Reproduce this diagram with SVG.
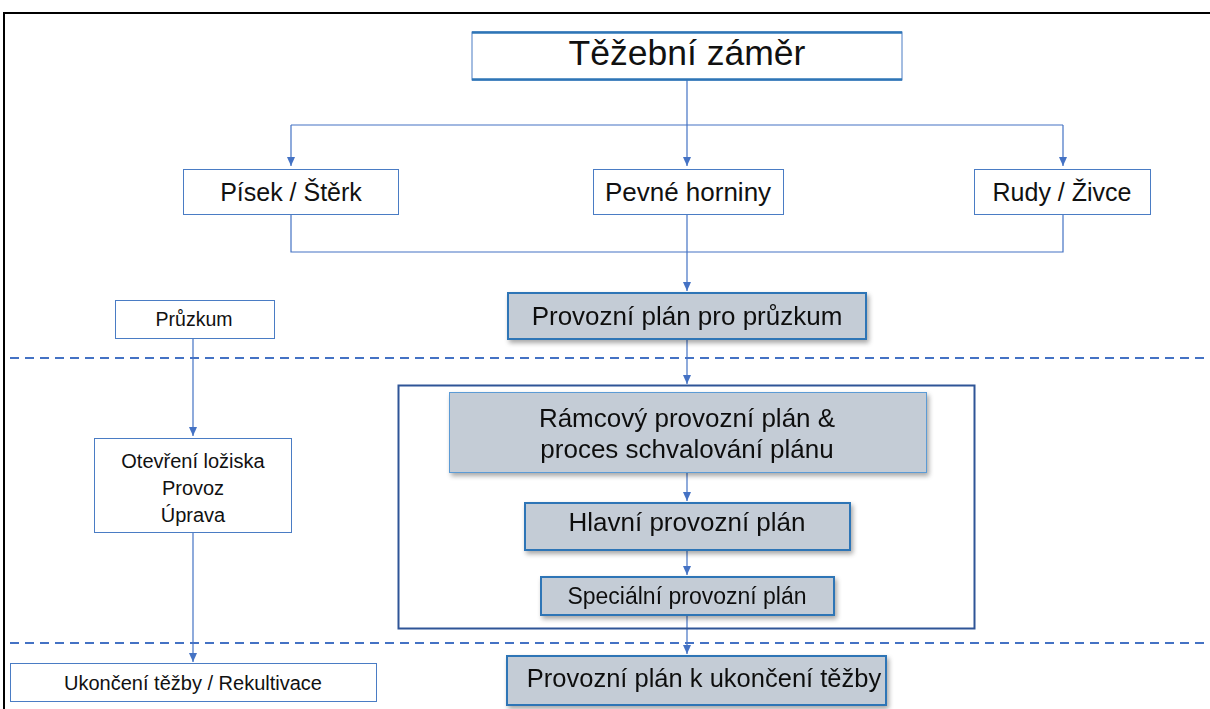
<svg xmlns="http://www.w3.org/2000/svg" width="1210" height="709" viewBox="0 0 1210 709">
<defs>
<marker id="arw" markerWidth="10" markerHeight="10" refX="9" refY="5" orient="auto" markerUnits="userSpaceOnUse">
<path d="M0,1 L9,5 L0,9 Z" fill="#4472c4"/>
</marker>
<filter id="sh" x="-10%" y="-20%" width="120%" height="150%">
<feGaussianBlur in="SourceAlpha" stdDeviation="2.5"/>
<feOffset dx="2" dy="3" result="b"/>
<feComponentTransfer><feFuncA type="linear" slope="0.35"/></feComponentTransfer>
<feMerge><feMergeNode/><feMergeNode in="SourceGraphic"/></feMerge>
</filter>
</defs>
<style>
text{font-family:"Liberation Sans",Arial,sans-serif;fill:#111;text-anchor:middle}
.wb{fill:#fff;stroke:#4a7cc4;stroke-width:1}
.gb{fill:#c4ccd6;stroke:#2e75b6;stroke-width:2}
.gl{fill:#c4ccd6;stroke:#5b9bd5;stroke-width:1}
.ln{fill:none;stroke:#4472c4;stroke-width:1.2}
.da{fill:none;stroke:#4472c4;stroke-width:2;stroke-dasharray:9 6}
</style>
<rect x="0" y="0" width="1210" height="709" fill="#fff"/>
<path d="M4,709 L4,13 L1210,13" fill="none" stroke="#000" stroke-width="2"/>

<g id="connectors">
<path class="ln" d="M687,80 L687,166" marker-end="url(#arw)"/>
<path class="ln" d="M291,125 L1063,125"/>
<path class="ln" d="M291,125 L291,166" marker-end="url(#arw)"/>
<path class="ln" d="M1063,125 L1063,166" marker-end="url(#arw)"/>
<path class="ln" d="M291,214 L291,252 L1063,252 L1063,214"/>
<path class="ln" d="M687,214 L687,291" marker-end="url(#arw)"/>
<path class="ln" d="M687,339 L687,384" marker-end="url(#arw)"/>
<path class="ln" d="M687,472 L687,501" marker-end="url(#arw)"/>
<path class="ln" d="M687,550 L687,575" marker-end="url(#arw)"/>
<path class="ln" d="M687,615 L687,654" marker-end="url(#arw)"/>
<path class="ln" d="M193,338 L193,436" marker-end="url(#arw)"/>
<path class="ln" d="M193,532 L193,662" marker-end="url(#arw)"/>
<path class="da" d="M10,358 L1210,358"/>
<path class="da" d="M10,643 L1210,643"/>
</g>

<g id="title">
<rect x="472" y="32" width="430" height="48" fill="#fff" stroke="#4a7cc4" stroke-width="1"/>
<path d="M472,32.5 L902,32.5 M472,79.5 L902,79.5" stroke="#2e75b6" stroke-width="2.5"/>
<text x="687" y="65" font-size="35.5">Těžební záměr</text>
</g>
<g id="pisek"><rect class="wb" x="183.5" y="169.5" width="215" height="45"/><text x="291" y="201" font-size="25">Písek / Štěrk</text></g>
<g id="pevne"><rect class="wb" x="593.5" y="169.5" width="190" height="45"/><text x="688" y="201" font-size="26">Pevné horniny</text></g>
<g id="rudy"><rect class="wb" x="974.5" y="169.5" width="176" height="45"/><text x="1062" y="201" font-size="25">Rudy / Živce</text></g>

<g id="pp-pruzkum" filter="url(#sh)"><rect class="gb" x="508" y="293" width="358" height="46"/><text x="687" y="325" font-size="26">Provozní plán pro průzkum</text></g>

<g id="pruzkum"><rect class="wb" x="115.5" y="300.5" width="159" height="38"/><text x="194" y="326" font-size="19.5">Průzkum</text></g>
<g id="otevreni"><rect class="wb" x="94.5" y="438.5" width="197" height="94"/>
<text x="193" y="468" font-size="20">Otevření ložiska</text>
<text x="193" y="495" font-size="20">Provoz</text>
<text x="193" y="522" font-size="20">Úprava</text></g>
<g id="ukonceni"><rect class="wb" x="10.5" y="663.5" width="366" height="38"/><text x="193" y="690" font-size="20">Ukončení těžby / Rekultivace</text></g>

<g id="frame"><rect x="398.5" y="385.5" width="576" height="243" fill="none" stroke="#2f5597" stroke-width="2"/></g>
<g id="ramcovy" filter="url(#sh)"><rect class="gl" x="449.5" y="392.5" width="477" height="80"/>
<text x="687" y="427" font-size="26">Rámcový provozní plán &amp;</text>
<text x="687" y="458" font-size="26">proces schvalování plánu</text></g>
<g id="hlavni" filter="url(#sh)"><rect class="gb" x="525" y="503" width="325" height="47"/><text x="687" y="531" font-size="26">Hlavní provozní plán</text></g>
<g id="specialni" filter="url(#sh)"><rect class="gb" x="541" y="577" width="293" height="38"/><text x="687" y="604" font-size="23">Speciální provozní plán</text></g>
<g id="pp-ukonceni" filter="url(#sh)"><rect class="gb" x="507" y="656" width="379" height="49"/><text x="704" y="687" font-size="25.5">Provozní plán k ukončení těžby</text></g>
</svg>
